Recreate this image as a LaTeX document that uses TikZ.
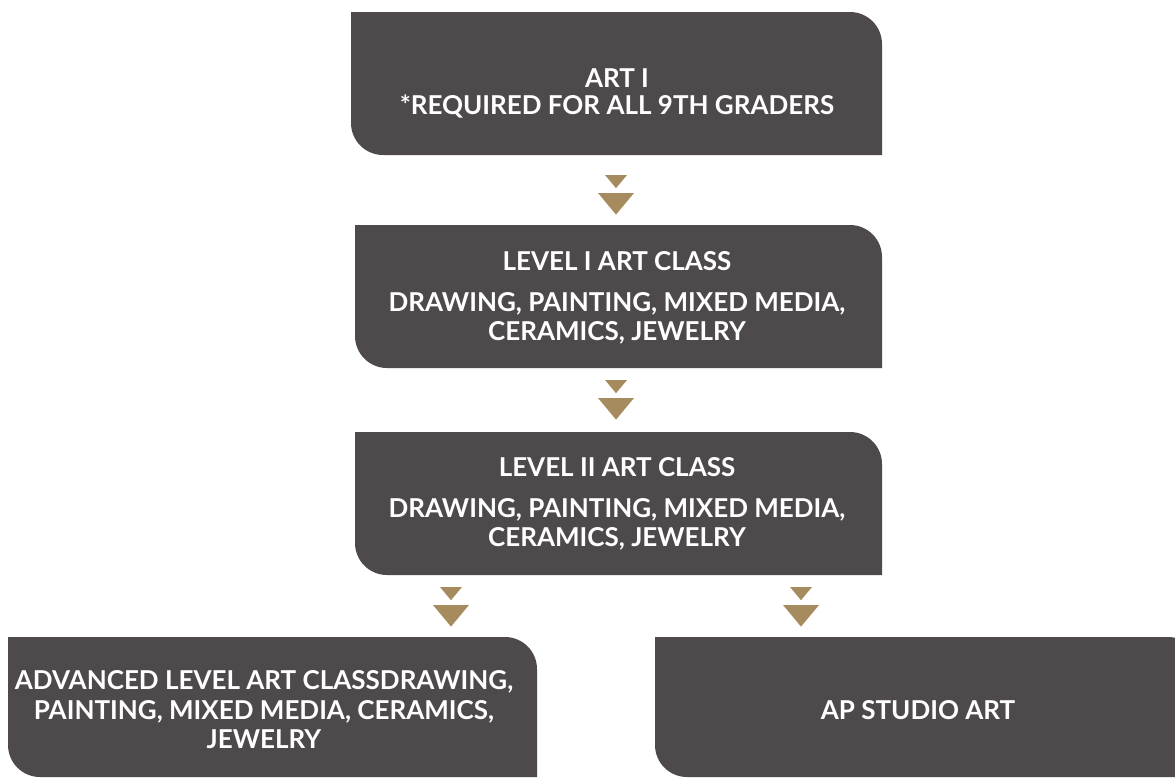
\documentclass[tikz,border=0pt]{standalone}
\usepackage{fontspec}
\setmainfont{Lato}
\definecolor{boxgray}{HTML}{4E4A4B}
\definecolor{gold}{HTML}{A68B5E}
\newcommand\artbox[5]{%
  \fill[boxgray] (#2,-#3) -- (#4-32,-#3) arc[start angle=90,end angle=0,radius=32]
    -- (#4,-#5) -- (#2+32,-#5) arc[start angle=270,end angle=180,radius=32] -- cycle;
  \coordinate (#1) at ({(#2+#4)/2},{-(#3+#5)/2});
}
\newcommand\tri[3]{% cx, top y, size (half width)
  \fill[gold] (#1-#3,-#2) -- (#1+#3,-#2) -- (#1,-#2-#3*1.2) -- cycle;
}
\begin{document}
\begin{tikzpicture}[x=1pt,y=1pt,
  txt/.style={text=white,align=center,font=\fontsize{26}{29.5}\selectfont\bfseries,inner sep=0pt}]
\useasboundingbox (0,0) rectangle (1175,-777);
\begin{scope}
\clip (0,0) rectangle (1175,-777);
\artbox{b1}{351}{12}{882}{155}
\artbox{b2}{355}{225}{882}{368}
\artbox{b3}{355}{432}{882}{575}
\artbox{b4}{8}{637}{537}{777}
\artbox{b5}{655}{637}{1200}{777}
\end{scope}
\node[txt] (t1) at (617,-93) {ART I\\[-2.5pt]*REQUIRED FOR ALL 9TH GRADERS};
\node[txt] (t2) at (617,-298) {LEVEL I ART CLASS\\[11pt]DRAWING, PAINTING, MIXED MEDIA,\\CERAMICS, JEWELRY};
\node[txt] (t3) at (617,-504) {LEVEL II ART CLASS\\[11pt]DRAWING, PAINTING, MIXED MEDIA,\\CERAMICS, JEWELRY};
\node[txt] (t4) at (264,-710) {ADVANCED LEVEL ART CLASSDRAWING,\\PAINTING, MIXED MEDIA, CERAMICS,\\JEWELRY};
\node[txt] (t5) at (918,-710) {AP STUDIO ART};
\tri{616}{175}{11}
\tri{616}{193}{18}
\tri{616}{380}{11}
\tri{616}{398}{18}
\tri{451}{587}{11}
\tri{451}{605}{18}
\tri{801}{587}{11}
\tri{801}{605}{18}
\end{tikzpicture}
\end{document}
